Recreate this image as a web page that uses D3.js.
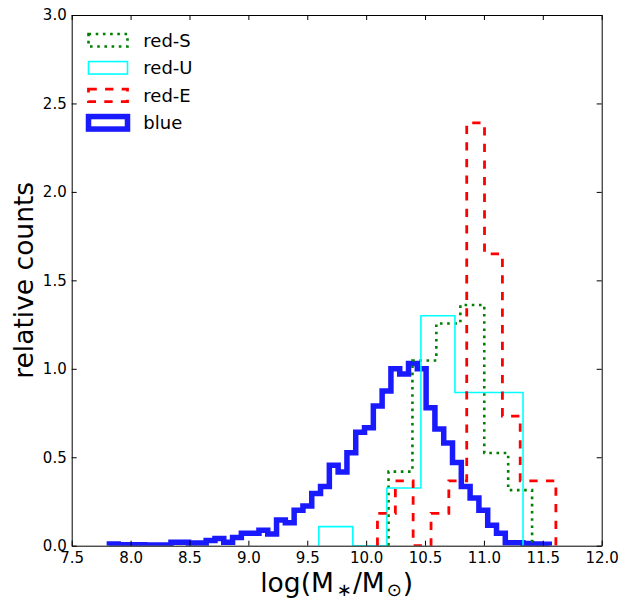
<!DOCTYPE html>
<html>
<head>
<meta charset="utf-8">
<script src="https://cdn.jsdelivr.net/npm/d3@7"></script>
<style>
    body { margin: 0; background: #fff; }
    text { font-family: "DejaVu Sans", sans-serif; fill: #000; }
</style>
</head>
<body>
<div id="chart-area"></div>
<script>
// blue sample: 50 equal-width bins starting at blueLo
var blueLo = 7.82
var blueBinWidth = 0.0747
var blueCounts = [0.010, 0.006, 0.006, 0.006, 0.004, 0.004, 0.004, 0.019, 0.019, 0.015,
                  0.015, 0.030, 0.040, 0.020, 0.047, 0.070, 0.070, 0.088, 0.066, 0.145,
                  0.130, 0.200, 0.225, 0.295, 0.335, 0.455, 0.417, 0.525, 0.642, 0.667,
                  0.790, 0.875, 1.000, 0.970, 1.030, 1.000, 0.780, 0.660, 0.580, 0.470,
                  0.335, 0.270, 0.200, 0.115, 0.070, 0.017, 0.017, 0.012, 0.010, 0.008]

// red-S
var redSEdges = [10.190, 10.393, 10.596, 10.800, 11.003, 11.206, 11.409]
var redSCounts = [0.419, 1.047, 1.256, 1.361, 0.524, 0.314]

// red-U
var redUEdges = [9.598, 9.887, 10.176, 10.465, 10.754, 11.043, 11.332]
var redUCounts = [0.108, 0, 0.326, 1.300, 0.866, 0.866]

// red-E
var redEEdges = [10.096, 10.248, 10.399, 10.551, 10.702, 10.854, 11.005, 11.157, 11.308, 11.460, 11.611]
var redECounts = [0.183, 0.367, 0, 0.183, 0.367, 2.390, 1.650, 0.733, 0.367, 0.367]

var xTicks = [7.5, 8.0, 8.5, 9.0, 9.5, 10.0, 10.5, 11.0, 11.5, 12.0]
var yTicks = [0.0, 0.5, 1.0, 1.5, 2.0, 2.5, 3.0]
var legendNames = ["red-S", "red-U", "red-E", "blue"]

var styles = {
    "red-S": {color: "#008000", width: 2.6, dash: "2.6,4.6"},
    "red-U": {color: "#00ffff", width: 1.6, dash: null},
    "red-E": {color: "#ff0000", width: 2.8, dash: "8.3,8.3"},
    "blue":  {color: "#1a1aff", width: 5.5, dash: null}
}

function init() {
    var svgWidth = 627
    var svgHeight = 601

    //margins
    var margin = {
        top: 15,
        right: 25.3,
        bottom: 55.3,
        left: 71.7
    };

    //chart area
    var chartWidth = svgWidth - margin.left - margin.right;
    var chartHeight = svgHeight - margin.top - margin.bottom;

    var svg = d3.select("#chart-area")
        .append("svg")
        .attr("width", svgWidth)
        .attr("height", svgHeight)

    var chartGroup = svg.append("g")
        .attr("transform", "translate(" + margin.left + "," + margin.top + ")")

    var xScale = d3.scaleLinear().domain([7.5, 12.0]).range([0, chartWidth])
    var yScale = d3.scaleLinear().domain([0, 3.0]).range([chartHeight, 0])

    svg.append("defs").append("clipPath")
        .attr("id", "plot-clip")
        .append("rect")
        .attr("width", chartWidth)
        .attr("height", chartHeight)

    var blueEdges = d3.range(blueCounts.length + 1).map(i => blueLo + i * blueBinWidth)

    var series = [
        {name: "blue", edges: blueEdges, counts: blueCounts},
        {name: "red-S", edges: redSEdges, counts: redSCounts},
        {name: "red-U", edges: redUEdges, counts: redUCounts},
        {name: "red-E", edges: redEEdges, counts: redECounts}
    ]

    // matplotlib style open step outline
    function stepPoints(edges, counts) {
        var pts = [[edges[0], 0]]
        counts.forEach((c, i) => {
            pts.push([edges[i], c])
            pts.push([edges[i + 1], c])
        })
        pts.push([edges[edges.length - 1], 0])
        return pts
    }

    var line = d3.line()
        .x(d => xScale(d[0]))
        .y(d => yScale(d[1]))

    var histGroup = chartGroup.append("g").attr("clip-path", "url(#plot-clip)")

    series.forEach(s => {
        var st = styles[s.name]
        histGroup.append("path")
            .attr("d", line(stepPoints(s.edges, s.counts)))
            .attr("fill", "none")
            .attr("stroke", st.color)
            .attr("stroke-width", st.width)
            .attr("stroke-dasharray", st.dash)
            .attr("stroke-linejoin", "miter")
            .attr("stroke-linecap", "butt")
    })

    // axes, ticks pointing inward on all four sides
    var fmt = d3.format(".1f")
    var botAxis = d3.axisBottom(xScale).tickValues(xTicks).tickFormat(fmt)
        .tickSizeInner(-5).tickSizeOuter(0).tickPadding(7)
    var leftAxis = d3.axisLeft(yScale).tickValues(yTicks).tickFormat(fmt)
        .tickSizeInner(-5).tickSizeOuter(0).tickPadding(5)
    var topAxis = d3.axisTop(xScale).tickValues(xTicks).tickFormat("")
        .tickSizeInner(-5).tickSizeOuter(0)
    var rightAxis = d3.axisRight(yScale).tickValues(yTicks).tickFormat("")
        .tickSizeInner(-5).tickSizeOuter(0)

    chartGroup.append("g")
        .attr("transform", `translate(0, ${chartHeight})`)
        .call(botAxis)
    chartGroup.append("g").call(leftAxis)
    chartGroup.append("g").call(topAxis)
    chartGroup.append("g")
        .attr("transform", `translate(${chartWidth}, 0)`)
        .call(rightAxis)

    chartGroup.selectAll(".tick text")
        .attr("font-family", "DejaVu Sans")
        .attr("font-size", "15px")
        .attr("fill", "#000")
    chartGroup.selectAll(".domain, .tick line")
        .attr("stroke", "#000")
        .attr("stroke-width", 1)

    // axis labels
    svg.append("text")
        .attr("transform", "translate(33," + (margin.top + chartHeight / 2) + ") rotate(-90)")
        .attr("text-anchor", "middle")
        .attr("font-size", "26.5px")
        .text("relative counts")

    var xLabel = svg.append("text")
        .attr("transform", "translate(" + (margin.left + chartWidth / 2) + ",592)")
        .attr("text-anchor", "middle")
        .attr("font-size", "26.5px")
    xLabel.append("tspan").text("log(M")
    xLabel.append("tspan").attr("font-size", "18px").attr("dx", 3).attr("dy", 4).text("\u2217")
    xLabel.append("tspan").attr("dx", 1).attr("dy", -4).text("/M")
    xLabel.append("tspan").attr("font-size", "18px").attr("dx", 2).attr("dy", 4).text("\u2299")
    xLabel.append("tspan").attr("dx", 1).attr("dy", -4).text(")")

    // legend
    var legend = svg.append("g")
    legendNames.forEach((name, i) => {
        var st = styles[name]
        var cy = 40.3 + i * 27.5
        legend.append("rect")
            .attr("x", 88.5)
            .attr("y", cy - 6.25)
            .attr("width", 39)
            .attr("height", 12.5)
            .attr("fill", "none")
            .attr("stroke", st.color)
            .attr("stroke-width", st.width)
            .attr("stroke-dasharray", st.dash)
        legend.append("text")
            .attr("x", 143.3)
            .attr("y", cy)
            .attr("dy", "0.35em")
            .attr("font-size", "18px")
            .text(name)
    })
}

window.addEventListener('load', init, false)
</script>
</body>
</html>
